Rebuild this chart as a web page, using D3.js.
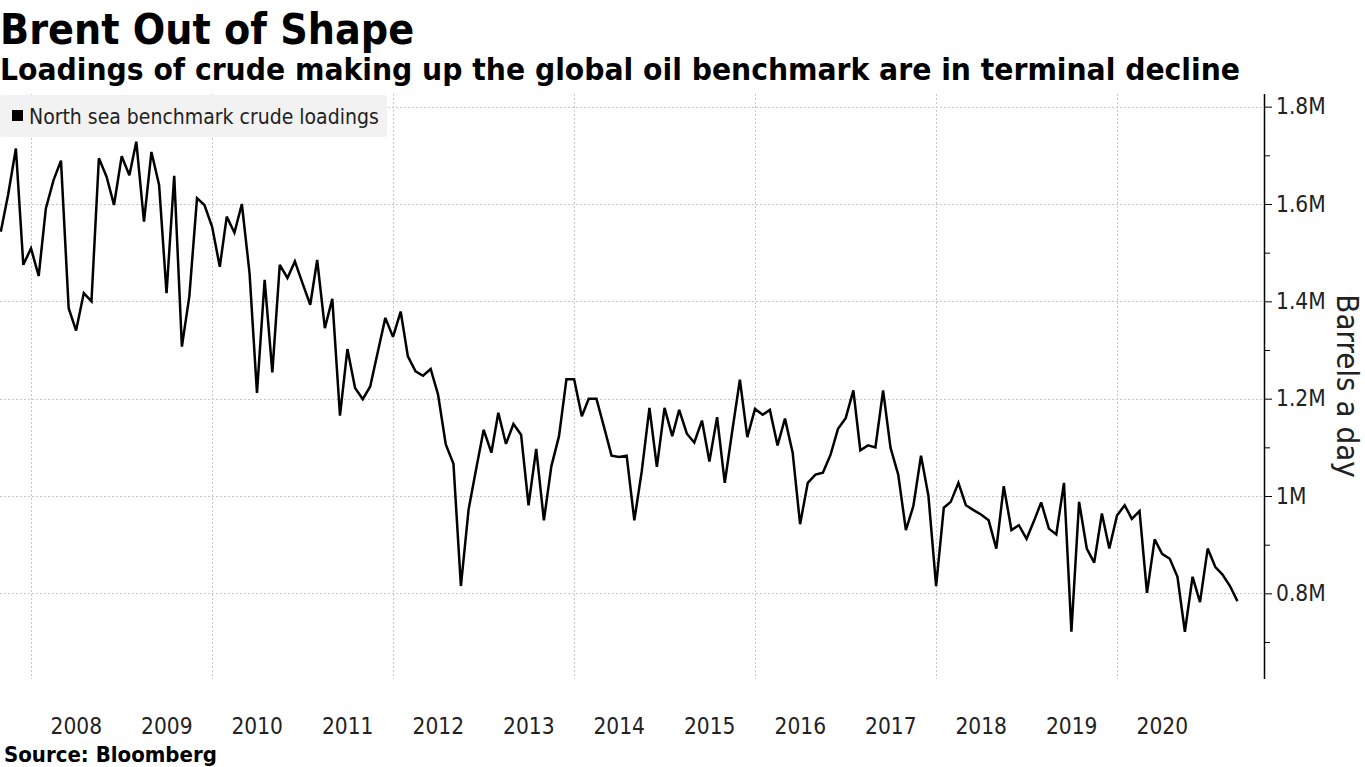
<!DOCTYPE html>
<html>
<head>
<meta charset="utf-8">
<script src="https://cdn.jsdelivr.net/npm/d3@7"></script>
<style>
  html, body { margin: 0; padding: 0; background: #fff; }
  svg { display: block; font-family: "DejaVu Sans Condensed", "DejaVu Sans", sans-serif; font-stretch: condensed; }
</style>
</head>
<body>
<svg id="chart" width="1365" height="767"></svg>
<script>
// ---- Data ----
const title = "Brent Out of Shape";
const subtitle = "Loadings of crude making up the global oil benchmark are in terminal decline";
const seriesName = "North sea benchmark crude loadings";
const yAxisTitle = "Barrels a day";
const source = "Source: Bloomberg";
const firstMonth = "2007-09-01";
// monthly loadings, million barrels a day, Sep 2007 .. May 2021
const loadings = [
  1.543, 1.620, 1.714, 1.475, 1.509, 1.452, 1.591, 1.649, 1.689, 1.386,
  1.340, 1.417, 1.400, 1.694, 1.656, 1.598, 1.698, 1.659, 1.728, 1.564,
  1.707, 1.639, 1.417, 1.658, 1.307, 1.410, 1.612, 1.598, 1.553, 1.471,
  1.574, 1.541, 1.600, 1.458, 1.212, 1.444, 1.254, 1.475, 1.448, 1.482,
  1.437, 1.393, 1.485, 1.345, 1.405, 1.165, 1.302, 1.222, 1.199, 1.225,
  1.297, 1.366, 1.327, 1.379, 1.287, 1.256, 1.247, 1.261, 1.208, 1.106,
  1.066, 0.815, 0.972, 1.054, 1.136, 1.089, 1.171, 1.107, 1.148, 1.126,
  0.981, 1.097, 0.950, 1.061, 1.123, 1.240, 1.240, 1.164, 1.200, 1.200,
  1.143, 1.083, 1.080, 1.083, 0.950, 1.051, 1.181, 1.060, 1.181, 1.123,
  1.177, 1.128, 1.110, 1.155, 1.071, 1.162, 1.027, 1.133, 1.239, 1.121,
  1.179, 1.167, 1.177, 1.104, 1.159, 1.089, 0.942, 1.027, 1.044, 1.048,
  1.085, 1.138, 1.160, 1.217, 1.094, 1.104, 1.100, 1.217, 1.099, 1.044,
  0.930, 0.979, 1.083, 1.000, 0.815, 0.976, 0.988, 1.027, 0.981, 0.971,
  0.962, 0.950, 0.892, 1.020, 0.930, 0.940, 0.912, 0.950, 0.987, 0.933,
  0.921, 1.027, 0.721, 0.988, 0.892, 0.863, 0.964, 0.892, 0.960, 0.981,
  0.953, 0.969, 0.801, 0.911, 0.881, 0.871, 0.834, 0.721, 0.834, 0.782,
  0.892, 0.854, 0.839, 0.815, 0.784
];
const yTicks = [0.8, 1.0, 1.2, 1.4, 1.6, 1.8];
const yMinorTicks = [0.7, 0.9, 1.1, 1.3, 1.5, 1.7];
const yearLabels = [2008, 2009, 2010, 2011, 2012, 2013, 2014, 2015, 2016, 2017, 2018, 2019, 2020];
const gridYears = [2008, 2010, 2012, 2014, 2016, 2018, 2020];

// ---- Build ----
const parse = d3.utcParse("%Y-%m-%d");
const start = parse(firstMonth);
const data = loadings.map((v, i) => ({ date: d3.utcMonth.offset(start, i), value: v }));

const svg = d3.select("#chart");
const plotLeft = 0, plotRight = 1264, plotTop = 94, plotBottom = 679;

const x = d3.scaleUtc()
  .domain([Date.UTC(2008, 0, 1), Date.UTC(2020, 0, 1)])
  .range([31, 1117]);
const y = d3.scaleLinear()
  .domain([0.624, 1.826])
  .range([plotBottom, plotTop]);

// Titles
svg.append("text").attr("x", 0).attr("y", 44)
  .attr("font-size", 42.5).attr("font-weight", "bold").attr("fill", "#000")
  .text(title);
svg.append("text").attr("x", 0).attr("y", 80)
  .attr("font-size", 31).attr("font-weight", "bold").attr("fill", "#000")
  .attr("textLength", 1240).attr("lengthAdjust", "spacingAndGlyphs")
  .text(subtitle);

// Grid
const grid = svg.append("g").attr("stroke", "#c8c8c8").attr("stroke-width", 1).attr("stroke-dasharray", "2,2");
grid.selectAll("line.h").data(yTicks).join("line").attr("class", "h")
  .attr("x1", plotLeft).attr("x2", plotRight)
  .attr("y1", d => Math.round(y(d)) + 0.5).attr("y2", d => Math.round(y(d)) + 0.5);
grid.selectAll("line.v").data(gridYears).join("line").attr("class", "v")
  .attr("x1", d => Math.round(x(Date.UTC(d, 0, 1))) + 0.5).attr("x2", d => Math.round(x(Date.UTC(d, 0, 1))) + 0.5)
  .attr("y1", plotTop).attr("y2", plotBottom);

// Legend
const legend = svg.append("g");
legend.append("rect").attr("x", 0).attr("y", 95).attr("width", 387).attr("height", 42)
  .attr("rx", 3).attr("fill", "#f2f2f2");
legend.append("rect").attr("x", 12).attr("y", 110).attr("width", 11).attr("height", 11).attr("fill", "#000");
legend.append("text").attr("x", 29).attr("y", 124)
  .attr("font-size", 21).attr("fill", "#222").text(seriesName);

// Line
const line = d3.line().x(d => x(d.date)).y(d => y(d.value));
svg.append("path").datum(data)
  .attr("d", line).attr("fill", "none").attr("stroke", "#000")
  .attr("stroke-width", 2.5).attr("stroke-linejoin", "miter").attr("stroke-miterlimit", 3);

// Y axis (right)
const yAxis = d3.axisRight(y).tickValues(yTicks).tickSize(8).tickPadding(4)
  .tickFormat(d => d3.format("~g")(d) + "M");
const ya = svg.append("g").attr("transform", `translate(${plotRight},0)`).call(yAxis);
ya.select(".domain").attr("stroke", "#000").attr("stroke-width", 1.5).attr("d", `M0.5,${plotTop}V${plotBottom}`);
ya.selectAll(".tick line").attr("stroke", "#000");
ya.selectAll(".tick text").attr("font-size", 22.5).attr("fill", "#222")
  .attr("font-family", "'DejaVu Sans Condensed', 'DejaVu Sans', sans-serif");
const yMinor = d3.axisRight(y).tickValues(yMinorTicks).tickSize(6).tickFormat("");
const ym = svg.append("g").attr("transform", `translate(${plotRight},0)`).call(yMinor);
ym.select(".domain").remove();
ym.selectAll(".tick line").attr("stroke", "#000");

svg.append("text")
  .attr("transform", `translate(1337,386) rotate(90)`)
  .attr("text-anchor", "middle").attr("font-size", 31).attr("fill", "#222")
  .text(yAxisTitle);

// X labels (centered mid-year)
const xa = svg.append("g");
xa.selectAll("text").data(yearLabels).join("text")
  .attr("x", d => x(Date.UTC(d, 6, 2)))
  .attr("y", 734)
  .attr("text-anchor", "middle").attr("font-size", 22.5).attr("fill", "#222")
  .text(d => d);

// Source
svg.append("text").attr("x", 4).attr("y", 762)
  .attr("font-size", 22).attr("font-weight", "bold").attr("fill", "#000")
  .text(source);
</script>
</body>
</html>
